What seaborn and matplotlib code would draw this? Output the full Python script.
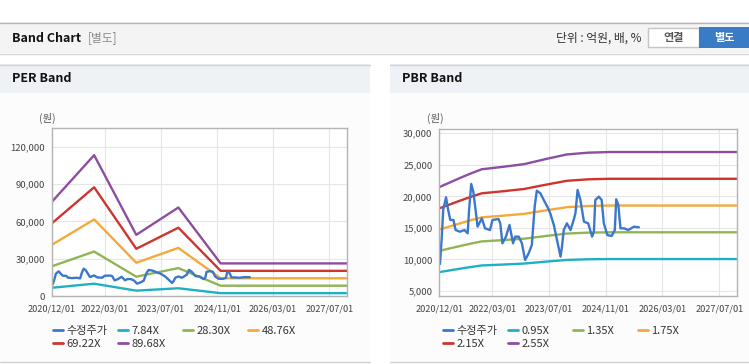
import numpy as np
import pandas as pd
import seaborn as sns
import matplotlib.pyplot as plt
import matplotlib.dates as mdates
from matplotlib.patches import Rectangle
from matplotlib.lines import Line2D
from matplotlib.ticker import FuncFormatter

# adjusted price, x as months after 2020/12/01
price_months = [0.2, 0.7, 1.1, 1.9, 2.5, 3.1, 4, 4.6, 5.8, 7.1, 8, 8.4, 9, 9.6, 10.8,
                12, 12.9, 14.3, 15, 16.7, 17.2, 17.8, 18.8, 19.8, 20.8, 21.4, 22.4, 23.3,
                24.2, 25.2, 26.1, 26.9, 27.5, 28.5, 29.7, 30.7, 31.3, 32.3, 33.2, 34.2,
                34.6, 35.1, 36, 37, 37.9, 38.4, 39, 39.8, 40.8, 42, 43.1, 43.6, 44, 45,
                45.8, 46.4, 47.4, 48.6, 49.5, 49.9, 50.5, 51.1, 52.1, 53.3, 54.9, 56.3]
price_values = [9280, 13600, 17850, 19850, 17850, 16260, 16260, 14670, 14400, 14670,
                14150, 17850, 21970, 20750, 15200, 16520, 14940, 14670, 16260, 16420,
                15730, 12560, 13620, 15470, 12560, 13620, 13620, 12560, 9920, 10970,
                12300, 18370, 20910, 20490, 19170, 18110, 17320, 15470, 13090, 10450,
                12030, 14670, 15730, 14670, 16260, 17320, 21020, 19430, 15990, 15730,
                13620, 14400, 19430, 19960, 19430, 15730, 13880, 13720, 14670, 19540,
                18630, 14940, 14940, 14670, 15200, 15100]

eps_dates = ['2020-12-01', '2021-12-01', '2022-12-01', '2023-12-01', '2024-12-01', '2027-12-01']
eps_values = [845, 1262, 548, 793, 292, 292]
per_multiples = [7.84, 28.30, 48.76, 69.22, 89.68]

bps_dates = ['2020-12-01', '2021-06-01', '2021-09-01', '2021-12-01', '2022-06-01', '2022-12-01',
             '2023-06-01', '2023-12-01', '2024-06-01', '2024-12-01', '2027-12-01']
bps_values = [8420, 9000, 9280, 9530, 9680, 9850, 10160, 10450, 10560, 10600, 10600]
pbr_multiples = [0.95, 1.35, 1.75, 2.15, 2.55]

tick_dates = ['2020-12-01', '2022-03-01', '2023-07-01', '2024-11-01', '2026-03-01', '2027-07-01']

price_name = '수정주가'
line_colors = ['#3b78cc', '#1fb1c3', '#8fb555', '#f4a93a', '#cf342d', '#8d4e9f']

sns.set_style('white')
plt.rcParams['font.family'] = ['Noto Sans CJK KR', 'DejaVu Sans']

W, H = 749, 364
fig = plt.figure(figsize=(W / 100, H / 100), dpi=100)


def box(x0, y0, x1, y1, **kw):
    fig.patches.append(Rectangle((x0 / W, 1 - y1 / H), (x1 - x0) / W, (y1 - y0) / H,
                                 transform=fig.transFigure, zorder=-5, **kw))


def hline(x0, x1, y, color):
    fig.lines.append(Line2D([x0 / W, x1 / W], [1 - y / H, 1 - y / H],
                            transform=fig.transFigure, color=color, lw=1, zorder=-4))


def text(x, y, s, **kw):
    fig.text(x / W, 1 - y / H, s, va='center', **kw)


# header bar
box(0, 22, W, 53, facecolor='#f4f4f4', edgecolor='none')
hline(0, W, 22.5, '#b5b5b5')
hline(0, W, 53.5, '#d6d6d6')
text(12, 38, 'Band Chart', fontsize=9, fontweight='bold', color='#111111')
text(88, 38, '[별도]', fontsize=8.5, color='#8a8a8a')
text(642, 38, '단위 : 억원, 배, %', fontsize=8.5, color='#333333', ha='right')
box(648, 28, 699, 47, facecolor='white', edgecolor='#c4c4c4', lw=1)
text(673.5, 37.5, '연결', fontsize=8, fontweight='bold', color='#555555', ha='center')
box(699, 27, W, 48, facecolor='#3a7bc6', edgecolor='none')
text(724, 37.5, '별도', fontsize=8, fontweight='bold', color='white', ha='center')

# panels
for x0, x1, title in [(0, 370, 'PER Band'), (390, W, 'PBR Band')]:
    box(x0, 64, x1, 93, facecolor='#eef1f6', edgecolor='none')
    box(x0, 93, x1, 362, facecolor='#fcfcfc', edgecolor='none')
    hline(x0, x1, 64.5, '#d2d2d2')
    hline(x0, x1, 362, '#d2d2d2')
    text(x0 + 12, 79, title, fontsize=9, fontweight='bold', color='#111111')

start = pd.Timestamp('2020-12-01')
price_dates = start + pd.to_timedelta(np.array(price_months) * 30.44, unit='D')
price_df = pd.DataFrame({'date': price_dates, 'value': price_values})

panels = [
    dict(rect=(52, 128, 347, 296), base_dates=eps_dates, base=eps_values, mult=per_multiples,
         ylim=(0, 135000), yticks=[0, 30000, 60000, 90000, 120000], unit_x=47, legend_x=53),
    dict(rect=(439.3, 129, 737, 295.7), base_dates=bps_dates, base=bps_values, mult=pbr_multiples,
         ylim=(4260, 30680), yticks=[5000, 10000, 15000, 20000, 25000, 30000], unit_x=435,
         legend_x=443),
]

for p in panels:
    x0, y0, x1, y1 = p['rect']
    ax = fig.add_axes([x0 / W, 1 - y1 / H, (x1 - x0) / W, (y1 - y0) / H])
    ax.set_zorder(2)
    names = [f'{m:.2f}X' for m in p['mult']]
    rows = []
    for name, m in zip(names, p['mult']):
        for d, b in zip(p['base_dates'], p['base']):
            rows.append({'date': pd.Timestamp(d), 'value': m * b, 'series': name})
    band_df = pd.DataFrame(rows)
    sns.lineplot(data=band_df, x='date', y='value', hue='series', hue_order=names,
                 palette=line_colors[1:], linewidth=1.7, legend=False, ax=ax)
    sns.lineplot(data=price_df, x='date', y='value', color=line_colors[0],
                 linewidth=1.7, ax=ax)

    ax.set_xlim(pd.Timestamp('2020-12-01'), pd.Timestamp('2027-12-01'))
    ax.set_ylim(*p['ylim'])
    ax.set_xticks(pd.to_datetime(tick_dates))
    ax.xaxis.set_major_formatter(mdates.DateFormatter('%Y/%m/%d'))
    ax.set_yticks(p['yticks'])
    ax.yaxis.set_major_formatter(FuncFormatter(lambda v, pos: f'{v:,.0f}'))
    ax.set_xlabel('')
    ax.set_ylabel('')
    ax.grid(True, color='#e6e6e6', lw=0.8)
    ax.set_axisbelow(True)
    for s in ax.spines.values():
        s.set_color('#b4b4b4')
        s.set_linewidth(1)
    ax.tick_params(axis='x', length=4, width=1, color='#b4b4b4', pad=2,
                   labelsize=6.6, labelcolor='#444444')
    ax.tick_params(axis='y', length=0, pad=5, labelsize=6.8, labelcolor='#444444')
    ax.set_facecolor('white')

    text(p['unit_x'], 118, '(원)', fontsize=7.5, color='#555555', ha='center')

    # legend laid out row by row, four columns
    all_names = [price_name] + names
    columns = [[0, 4], [1, 5], [2], [3]]
    for ci, idx in enumerate(columns):
        handles = [Line2D([], [], color=line_colors[i], lw=2) for i in idx]
        fig.legend(handles, [all_names[i] for i in idx], loc='upper left',
                   bbox_to_anchor=((p['legend_x'] + ci * 65) / W, 1 - 326 / H),
                   frameon=False, fontsize=8, handlelength=0.9, handletextpad=0.3,
                   labelspacing=0.24, borderpad=0, borderaxespad=0, labelcolor='#333333')

fig.savefig('out.png', dpi=100, facecolor='white')
